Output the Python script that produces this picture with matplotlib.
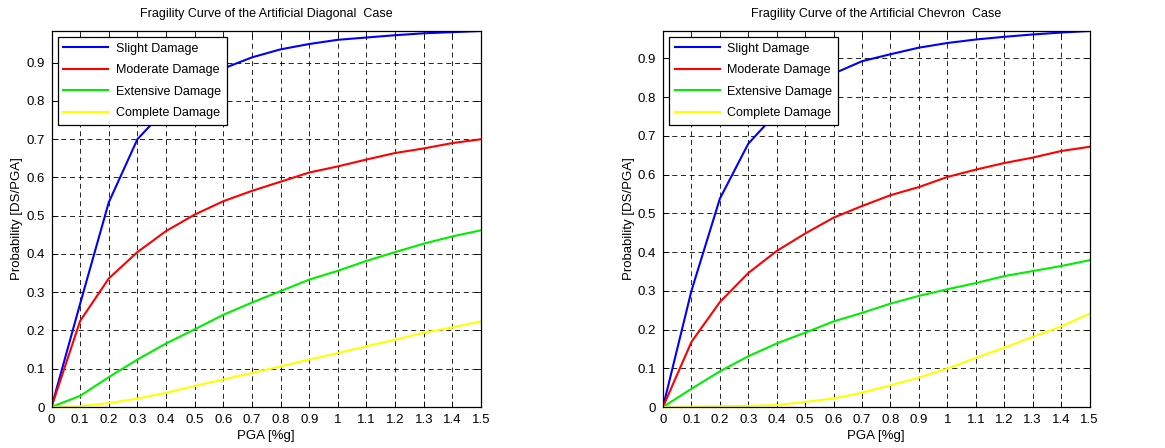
import numpy as np
import matplotlib.pyplot as plt
from matplotlib.ticker import FuncFormatter

plt.rcParams['font.family'] = ['Liberation Sans', 'DejaVu Sans']

pga = [0, 0.1, 0.2, 0.3, 0.4, 0.5, 0.6, 0.7, 0.8, 0.9, 1.0, 1.1, 1.2, 1.3, 1.4, 1.5]
labels = ['Slight Damage', 'Moderate Damage', 'Extensive Damage', 'Complete Damage']
colors = ['#0000ff', '#ff0000', '#00ee00', '#ffff00']

# Artificial Diagonal case
diag_slight = [0, 0.27, 0.535, 0.70, 0.78, 0.84, 0.885, 0.914, 0.935, 0.949, 0.960, 0.966, 0.972, 0.977, 0.980, 0.983]
diag_moderate = [0, 0.225, 0.336, 0.405, 0.46, 0.503, 0.538, 0.565, 0.589, 0.613, 0.629, 0.647, 0.664, 0.676, 0.69, 0.70]
diag_extensive = [0, 0.029, 0.078, 0.124, 0.166, 0.203, 0.241, 0.273, 0.303, 0.333, 0.356, 0.382, 0.405, 0.427, 0.446, 0.462]
diag_complete = [0, 0.002, 0.010, 0.022, 0.037, 0.055, 0.072, 0.089, 0.106, 0.124, 0.141, 0.159, 0.176, 0.194, 0.208, 0.224]

# Artificial Chevron case
chev_slight = [0, 0.30, 0.538, 0.68, 0.76, 0.82, 0.861, 0.893, 0.911, 0.928, 0.940, 0.949, 0.956, 0.962, 0.967, 0.971]
chev_moderate = [0, 0.168, 0.271, 0.346, 0.403, 0.448, 0.489, 0.519, 0.547, 0.568, 0.594, 0.613, 0.630, 0.644, 0.661, 0.672]
chev_extensive = [0, 0.047, 0.092, 0.131, 0.164, 0.192, 0.221, 0.243, 0.267, 0.287, 0.304, 0.320, 0.338, 0.351, 0.364, 0.379]
chev_complete = [0, 0.001, 0.002, 0.003, 0.005, 0.013, 0.022, 0.037, 0.056, 0.076, 0.099, 0.127, 0.153, 0.181, 0.208, 0.241]

panels = [
    ('Fragility Curve of the Artificial Diagonal  Case',
     [diag_slight, diag_moderate, diag_extensive, diag_complete], 0.983),
    ('Fragility Curve of the Artificial Chevron  Case',
     [chev_slight, chev_moderate, chev_extensive, chev_complete], 0.971),
]

fig = plt.figure(figsize=(11.65, 4.48), dpi=100)
W, H = 1165, 448
# axes boxes in pixels: left, right
boxes = [(51.5, 481), (663, 1089.5)]
top, bottom = 31, 407

fmt = FuncFormatter(lambda v, p: ('%g' % round(v, 2)))

for (title, series, ymax), (x0, x1) in zip(panels, boxes):
    ax = fig.add_axes([x0 / W, 1 - bottom / H, (x1 - x0) / W, (bottom - top) / H])
    for vals, lab, c in zip(series, labels, colors):
        ax.plot(pga, vals, color=c, lw=1.5, label=lab)
    ax.set_xlim(0, 1.5)
    ax.set_ylim(0, ymax)
    ax.set_xticks(np.arange(0, 1.51, 0.1))
    ax.set_yticks(np.arange(0, 0.91, 0.1))
    ax.xaxis.set_major_formatter(fmt)
    ax.yaxis.set_major_formatter(fmt)
    ax.tick_params(direction='in', length=4, width=0.6, labelsize=9.5, top=True, right=True, pad=5)
    ax.grid(True, color='black', linestyle=(0, (6, 4.5)), linewidth=0.6)
    for s in ax.spines.values():
        s.set_linewidth(0.9)
    ax.set_title(title, fontsize=9, pad=10)
    ax.set_xlabel('PGA [%g]', fontsize=9.5, labelpad=3)
    ax.set_ylabel('Probability [DS/PGA]', fontsize=9.5, labelpad=2)
    leg = ax.legend(loc='upper left', fontsize=9, frameon=True, fancybox=False,
                    edgecolor='black', borderaxespad=0.5, handlelength=3.6,
                    labelspacing=0.75, borderpad=0.45, handletextpad=0.6)
    leg.get_frame().set_linewidth(0.9)
    leg.get_frame().set_alpha(1)

fig.savefig('out.png', dpi=100)
